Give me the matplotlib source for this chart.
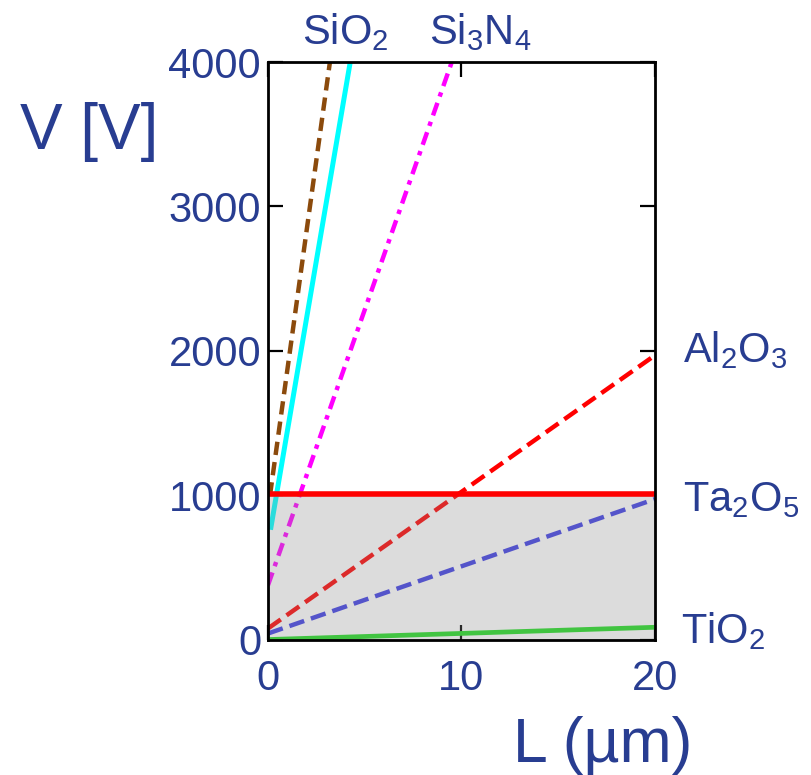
import matplotlib
matplotlib.use("Agg")
from matplotlib import pyplot as plt

plt.rcParams["font.family"] = ["Liberation Sans", "DejaVu Sans"]
plt.rcParams["mathtext.fontset"] = "custom"
plt.rcParams["mathtext.rm"] = "Liberation Sans"

BLUE_TEXT = "#283d91"

# line end points: L in um, V in volts
L_sio2_a = [0.1, 3.2]
V_sio2_a = [1000, 4000]
L_sio2_b = [0.15, 4.25]
V_sio2_b = [780, 4000]
L_si3n4 = [0.0, 9.5]
V_si3n4 = [380, 4000]
L_al2o3 = [0.0, 20.0]
V_al2o3 = [80, 1970]
L_ta2o5 = [0.0, 20.0]
V_ta2o5 = [45, 975]
L_tio2 = [0.0, 20.0]
V_tio2 = [3, 88]
V_limit = 1010

x_ticks = [0, 10, 20]
y_ticks = [0, 1000, 2000, 3000, 4000]

fig = plt.figure(figsize=(8.11, 7.75), dpi=100)
ax = fig.add_axes([0.3305, 0.1742, 0.477, 0.7458])

ax.plot(L_sio2_a, V_sio2_a, color="#8b4a0c", lw=3.2, linestyle=(0, (3, 1.6)))
ax.plot(L_sio2_b, V_sio2_b, color="cyan", lw=3.6)
ax.plot(L_si3n4, V_si3n4, color="magenta", lw=3.2, linestyle=(0, (3, 1.5, 1, 1.5)))
ax.plot(L_al2o3, V_al2o3, color="red", lw=3.2, linestyle=(0, (3.5, 1.6)))
ax.plot(L_ta2o5, V_ta2o5, color="#3c3ce6", lw=3.2, linestyle=(0, (3.5, 1.6)))
ax.plot(L_tio2, V_tio2, color="#22dd22", lw=3.4)

# shaded region under the limit, drawn over the lines
ax.axhspan(0, V_limit, color="0.55", alpha=0.3, lw=0, zorder=3)
ax.axhline(V_limit, color="red", lw=4, zorder=4)

ax.set_xlim(0, 20)
ax.set_ylim(0, 4000)
ax.set_xticks(x_ticks)
ax.set_yticks(y_ticks)
ax.tick_params(direction="in", length=11, width=1.6, top=True, right=True,
               labelsize=30, labelcolor=BLUE_TEXT, color="black")
ax.tick_params(axis="x", pad=14)
ax.tick_params(axis="y", pad=5)
for s in ax.spines.values():
    s.set_linewidth(2)
    s.set_zorder(5)

fig.text(0.025, 0.83, "V [V]", fontsize=46, color=BLUE_TEXT, va="center")
fig.text(0.632, 0.017, "L (µm)", fontsize=45, color=BLUE_TEXT, va="baseline")

labels = [
    (0.842, 0.548, r"$\mathrm{Al_2O_3}$"),
    (0.842, 0.355, r"$\mathrm{Ta_2O_5}$"),
    (0.840, 0.185, r"$\mathrm{TiO_2}$"),
]
for x, y, t in labels:
    fig.text(x, y, t, fontsize=30, color=BLUE_TEXT, va="center")
fig.text(0.426, 0.958, r"$\mathrm{SiO_2}$", fontsize=30, color=BLUE_TEXT, ha="center", va="center")
fig.text(0.592, 0.958, r"$\mathrm{Si_3N_4}$", fontsize=30, color=BLUE_TEXT, ha="center", va="center")

fig.savefig("out.png", dpi=100)
